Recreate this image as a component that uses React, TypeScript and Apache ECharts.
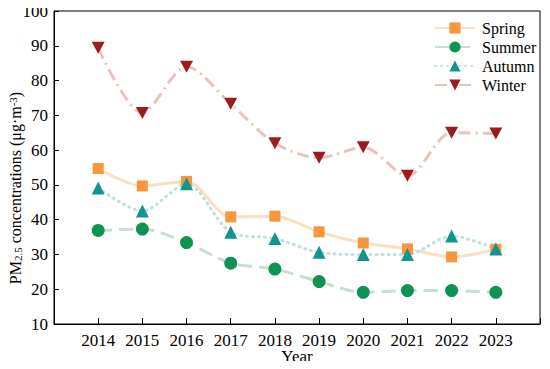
import React, { useEffect, useRef } from "react";
import * as echarts from "echarts";

const years = [2014, 2015, 2016, 2017, 2018, 2019, 2020, 2021, 2022, 2023];
const spring = [54.7, 49.7, 51.0, 40.8, 41.0, 36.5, 33.3, 31.6, 29.3, 31.5];
const summer = [36.9, 37.3, 33.4, 27.5, 25.8, 22.2, 19.1, 19.6, 19.6, 19.1];
const autumn = [49.1, 42.5, 50.3, 36.4, 34.6, 30.6, 30.0, 30.0, 35.3, 31.6];
const winter = [89.4, 70.7, 84.0, 73.3, 62.0, 57.8, 60.8, 52.6, 65.0, 64.8];
const yTicks = [10, 20, 30, 40, 50, 60, 70, 80, 90, 100];

const FONT = "Liberation Serif";
const DOWN_TRI = "path://M0,0 L12,0 L6,11 Z";

export default function App() {
  const ref = useRef<HTMLDivElement>(null);
  useEffect(() => {
    if (!ref.current) return;
    const chart = echarts.init(ref.current, undefined, { renderer: "svg" });
    const pair = (arr: number[]) => years.map((y, i) => [y, arr[i]]);
    const mk = (
      name: string,
      data: number[],
      symbol: string,
      size: number | number[],
      color: string,
      lineColor: string,
      type: any,
      cap: any = "butt"
    ) => ({
      name,
      type: "line",
      data: pair(data),
      smooth: 0.3,
      symbol,
      symbolSize: size,
      itemStyle: { color, opacity: 1 },
      lineStyle: { color: lineColor, width: 3, type, cap },
      z: 2,
    });
    chart.setOption({
      animation: false,
      textStyle: { fontFamily: FONT },
      grid: {
        left: 54,
        top: 11,
        right: 10,
        bottom: 45,
        outerBoundsMode: "none",
        containLabel: false,
        show: true,
        borderColor: "#000",
        borderWidth: 1,
        backgroundColor: "transparent",
      },
      legend: {
        left: 434,
        top: 20,
        padding: 0,
        orient: "vertical",
        itemWidth: 40,
        itemHeight: 14,
        itemGap: 3,
        textStyle: { fontFamily: FONT, fontSize: 16, color: "#000", padding: [0, 0, 0, 2] },
        data: ["Spring", "Summer", "Autumn", "Winter"],
      },
      xAxis: {
        type: "value",
        min: 2013,
        max: 2024,
        interval: 1,
        name: "Year",
        nameLocation: "middle",
        nameGap: 24,
        nameMoveOverlap: false,
        nameTextStyle: { fontFamily: FONT, fontSize: 17, color: "#000", verticalAlign: "top" },
        axisLine: { lineStyle: { color: "#000", width: 1 } },
        axisTick: { inside: true, length: 6, lineStyle: { color: "#000" } },
        splitLine: { show: false },
        axisLabel: {
          fontFamily: FONT,
          fontSize: 17,
          color: "#000",
          margin: 8,
          formatter: (v: number) => (years.includes(v) ? String(v) : ""),
        },
      },
      yAxis: {
        type: "value",
        min: yTicks[0],
        max: yTicks[yTicks.length - 1],
        interval: 10,
        axisLine: { show: true, lineStyle: { color: "#000", width: 1 } },
        axisTick: { show: true, inside: true, length: 5, lineStyle: { color: "#000" } },
        splitLine: { show: false },
        axisLabel: { fontFamily: FONT, fontSize: 17, color: "#000", margin: 6 },
      },
      graphic: [
        {
          type: "text",
          x: 15,
          y: 188,
          rotation: Math.PI / 2,
          style: {
            text: "PM{sub|2.5} concentrations (μg·m{sup|-3})",
            fontFamily: FONT,
            fontSize: 16,
            fill: "#000",
            align: "center",
            verticalAlign: "middle",
            rich: {
              sub: { fontFamily: FONT, fontSize: 11, verticalAlign: "bottom", lineHeight: 10, fill: "#000" },
              sup: { fontFamily: FONT, fontSize: 11, verticalAlign: "top", lineHeight: 10, fill: "#000" },
            },
          },
        },
      ],
      series: [
        mk("Spring", spring, "rect", 11, "#F7963D", "#FCDFC2", "solid"),
        mk("Summer", summer, "circle", 13, "#0E9352", "#C7DFD1", [14, 7]),
        mk("Autumn", autumn, "triangle", 13, "#14948F", "#BEE1E1", [1, 5], "round"),
        mk("Winter", winter, DOWN_TRI, [13, 12], "#9A1C1F", "#E8C3BB", [12, 5, 2, 5]),
      ],
    });
    return () => chart.dispose();
  }, []);
  return <div ref={ref} style={{ width: 550, height: 369, margin: -8 }} />;
}
